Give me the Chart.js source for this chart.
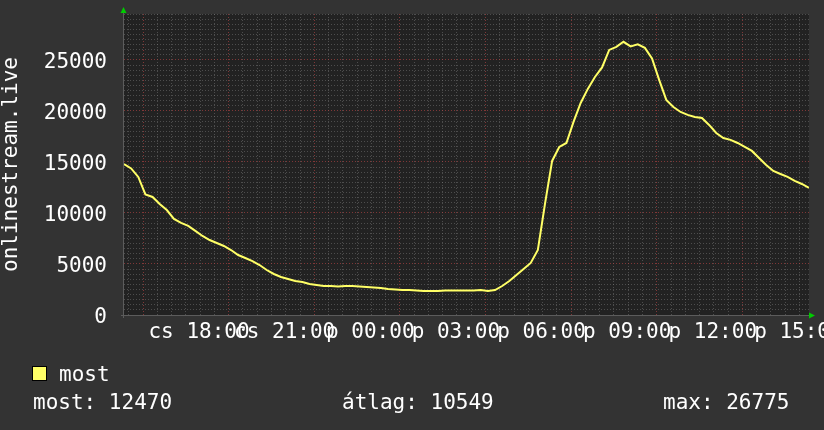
<!DOCTYPE html>
<html>
<head>
<meta charset="utf-8">
<script src="https://cdn.jsdelivr.net/npm/chart.js@4.4.1/dist/chart.umd.min.js"></script>
<style>
  html, body { margin: 0; padding: 0; background: #333333; }
  canvas { display: block; }
</style>
</head>
<body>
<canvas id="streamChart" width="824" height="430"></canvas>
<script>
// hours counted from Thursday 00:00, one sample every 15 minutes starting 17:20
const START_HOUR = 17 + 1 / 3;
const STEP_HOURS = 0.25;
const SPAN_HOURS = 24;

const listeners = [
    14800, 14360, 13530, 11810, 11570, 10880, 10290, 9410, 9020, 8730,
    8240, 7745, 7350, 7060, 6765, 6370, 5880, 5590, 5290, 4900,
    4410, 4020, 3725, 3530, 3330, 3235, 3040, 2940, 2840, 2840,
    2800, 2840, 2840, 2790, 2745, 2700, 2650, 2550, 2500, 2450,
    2450, 2400, 2350, 2350, 2350, 2400, 2400, 2400, 2400, 2400,
    2450, 2350, 2450, 2840, 3330, 3920, 4510, 5100, 6370, 10900,
    15100, 16470, 16860, 18920, 20780, 22160, 23330, 24260, 25980, 26280,
    26775, 26320, 26520, 26180, 25150, 23040, 21080, 20390, 19900, 19610,
    19410, 19310, 18630, 17840, 17350, 17160, 16860, 16470, 16080, 15390,
    14710, 14120, 13820, 13530, 13140, 12840, 12470
];

const majorTickHours = [18, 21, 24, 27, 30, 33, 36, 39];
const majorTickLabels = ['cs 18:00', 'cs 21:00', 'p 00:00', 'p 03:00', 'p 06:00', 'p 09:00', 'p 12:00', 'p 15:00'];
const yTickLabels = ['0', '5000', '10000', '15000', '20000', '25000'];

const Y_MAX = 29500;
const seriesName = 'most';
const yTitle = 'onlinestream.live';
const statTexts = ['most: 12470', 'átlag: 10549', 'max: 26775'];

const FONT = '"DejaVu Sans Mono", "Liberation Mono", monospace';
const LINE_COLOR = '#ffff66';
const MINOR_GRID = 'rgba(130, 130, 130, 0.45)';
const MAJOR_GRID = 'rgba(190, 70, 70, 0.6)';

document.addEventListener('DOMContentLoaded', init);

function init() {
    Chart.defaults.font.family = FONT;
    Chart.defaults.font.size = 21;
    Chart.defaults.color = '#ffffff';

    const points = listeners.map((v, i) => ({ x: START_HOUR + i * STEP_HOURS, y: v }));

    const xGrid = [];
    for (let h = Math.ceil(START_HOUR * 2) / 2; h <= START_HOUR + SPAN_HOURS; h += 0.5) xGrid.push(h);
    const yGrid = [];
    for (let v = 0; v <= Y_MAX; v += 500) yGrid.push(v);

    new Chart(document.getElementById('streamChart'), {
        type: 'line',
        data: {
            datasets: [{
                label: seriesName,
                data: points,
                borderColor: LINE_COLOR,
                borderWidth: 2,
                pointRadius: 0,
                tension: 0,
                fill: false
            }]
        },
        options: {
            responsive: false,
            animation: false,
            devicePixelRatio: 1,
            layout: { padding: { top: 14, right: 15, bottom: 0, left: 0 } },
            plugins: { legend: { display: false }, tooltip: { enabled: false } },
            scales: {
                x: {
                    type: 'linear',
                    min: START_HOUR,
                    max: START_HOUR + SPAN_HOURS,
                    afterBuildTicks: scale => { scale.ticks = xGrid.map(v => ({ value: v })); },
                    afterFit: scale => {
                        scale.height = 115;
                        scale.paddingLeft = 0;
                        scale.paddingRight = 0;
                    },
                    grid: {
                        drawTicks: false,
                        color: c => majorTickHours.includes(c.tick && c.tick.value) ? MAJOR_GRID : MINOR_GRID
                    },
                    border: { display: false, dash: [1, 2] },
                    ticks: {
                        autoSkip: false,
                        maxRotation: 0,
                        minRotation: 0,
                        labelOffset: 56,
                        padding: 5,
                        callback: value => {
                            const i = majorTickHours.indexOf(value);
                            return i >= 0 ? majorTickLabels[i] : '';
                        }
                    }
                },
                y: {
                    min: 0,
                    max: Y_MAX,
                    afterBuildTicks: scale => { scale.ticks = yGrid.map(v => ({ value: v })); },
                    afterFit: scale => {
                        scale.width = 124;
                        scale.paddingTop = 0;
                        scale.paddingBottom = 0;
                    },
                    grid: {
                        drawTicks: false,
                        color: c => (c.tick && c.tick.value % 5000 === 0) ? MAJOR_GRID : MINOR_GRID
                    },
                    border: { display: false, dash: [1, 2] },
                    ticks: {
                        autoSkip: false,
                        padding: 17,
                        labelOffset: 3,
                        callback: value => value % 5000 === 0 ? yTickLabels[value / 5000] : ''
                    }
                }
            }
        },
        plugins: [rrdFrame]
    });
}

const rrdFrame = {
    id: 'rrdFrame',
    beforeDraw(chart) {
        const { ctx, chartArea: a } = chart;
        ctx.save();
        ctx.fillStyle = '#333333';
        ctx.fillRect(0, 0, chart.width, chart.height);
        ctx.fillStyle = '#222222';
        ctx.fillRect(a.left, a.top, a.right - a.left, a.bottom - a.top);
        ctx.restore();
    },
    afterDraw(chart) {
        const { ctx, chartArea: a } = chart;
        ctx.save();

        // axes
        ctx.strokeStyle = '#5c5c5c';
        ctx.lineWidth = 1;
        ctx.beginPath();
        ctx.moveTo(a.left - 0.5, a.top - 2);
        ctx.lineTo(a.left - 0.5, a.bottom + 3);
        ctx.moveTo(a.left - 3, a.bottom + 0.5);
        ctx.lineTo(a.right + 2, a.bottom + 0.5);
        ctx.stroke();

        // arrow heads
        ctx.fillStyle = '#00cc00';
        ctx.beginPath();
        ctx.moveTo(a.left - 3.5, a.top - 1);
        ctx.lineTo(a.left + 2.5, a.top - 1);
        ctx.lineTo(a.left - 0.5, a.top - 7);
        ctx.closePath();
        ctx.fill();
        ctx.beginPath();
        ctx.moveTo(a.right, a.bottom - 2.5);
        ctx.lineTo(a.right, a.bottom + 3.5);
        ctx.lineTo(a.right + 6, a.bottom + 0.5);
        ctx.closePath();
        ctx.fill();

        // y axis title
        ctx.fillStyle = '#ffffff';
        ctx.font = '21px ' + FONT;
        ctx.translate(12, (a.top + a.bottom) / 2);
        ctx.rotate(-Math.PI / 2);
        ctx.textAlign = 'center';
        ctx.textBaseline = 'middle';
        ctx.fillText(yTitle, 0, 0);
        ctx.restore();

        // legend
        ctx.save();
        ctx.fillStyle = LINE_COLOR;
        ctx.fillRect(32, 366, 15, 15);
        ctx.strokeStyle = '#000000';
        ctx.lineWidth = 1;
        ctx.strokeRect(32.5, 366.5, 14, 14);
        ctx.fillStyle = '#ffffff';
        ctx.font = '21px ' + FONT;
        ctx.textBaseline = 'alphabetic';
        ctx.fillText(seriesName, 59, 381);
        ctx.fillText(statTexts[0], 33, 409);
        ctx.fillText(statTexts[1], 342, 409);
        ctx.fillText(statTexts[2], 663, 409);
        ctx.restore();
    }
};
</script>
</body>
</html>
